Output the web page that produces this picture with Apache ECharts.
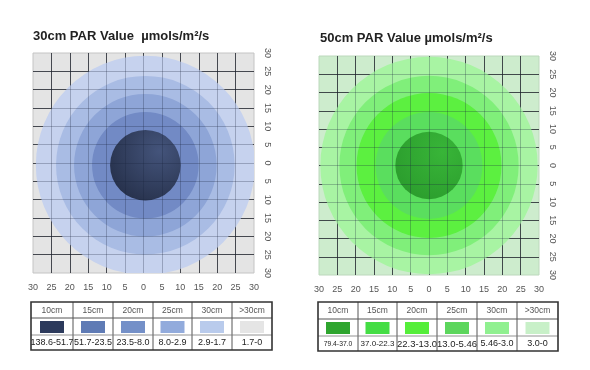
<!DOCTYPE html>
<html>
<head>
<meta charset="utf-8">
<script src="https://cdn.jsdelivr.net/npm/echarts@6/dist/echarts.min.js"></script>
<style>
html,body{margin:0;padding:0;background:#fff;}
#c{width:590px;height:370px;}
</style>
</head>
<body>
<div id="c"></div>
<script>
// ---- data ----
const titles = ['30cm PAR Value  \u00b5mols/m\u00b2/s', '50cm PAR Value \u00b5mols/m\u00b2/s'];
const tickValues = [-30, -25, -20, -15, -10, -5, 0, 5, 10, 15, 20, 25, 30];
const zoneLabels = ['10cm', '15cm', '20cm', '25cm', '30cm', '>30cm'];
// ring radii (axis units), inner to outer
const radii30 = [9.6, 14.5, 19.4, 24.3, 29.8];
const radii50 = [9.2, 14.6, 19.8, 24.5, 29.7];
// ring centres (axis units)
const center30 = [0.5, -0.6];
const center50 = [0, 0];
// PAR ranges per zone
const ranges30 = ['138.6-51.7', '51.7-23.5', '23.5-8.0', '8.0-2.9', '2.9-1.7', '1.7-0'];
const ranges50 = ['79.4-37.0', '37.0-22.3', '22.3-13.0', '13.0-5.46', '5.46-3.0', '3.0-0'];

// ---- styles ----
const ringColors30 = ['#2f3d5f', '#728ac5', '#8ea5d7', '#a9bce4', '#c6d2ee'];
const innerGrad30 = ['#44547b', '#232d46'];
const swatch30 = ['#2c3a5c', '#5f7bb5', '#7490c8', '#92abdc', '#b9cbec', '#e5e5e5'];
const bg30 = '#e4e4e4';
const ringColors50 = ['#2ea530', '#5ade5e', '#5cf040', '#80ef7a', '#a8f4a3'];
const innerGrad50 = ['#38b538', '#2a9a2c'];
const swatch50 = ['#2ea52e', '#44dd44', '#55ee3a', '#5cd65c', '#90f090', '#c8f0c8'];
const bg50 = '#cdeccd';
const valueFont30 = [9, 9, 9, 9, 9, 9];
const valueFont50 = [6.8, 8, 9.5, 9.5, 9, 9];

function ringData(radii, center) {
  const d = [];
  for (let i = radii.length - 1; i >= 0; i--) d.push([center[0], center[1], radii[i], i]);
  return d;
}

function makeRender(colors, grad) {
  return function (params, api) {
    const c = api.coord([api.value(0), api.value(1)]);
    const s = api.size([api.value(2), api.value(2)]);
    const idx = api.value(3);
    let fill = colors[idx];
    if (idx === 0) {
      fill = new echarts.graphic.RadialGradient(0.7, 0.3, 0.9, [
        {offset: 0, color: grad[0]},
        {offset: 1, color: grad[1]}
      ]);
    }
    return {
      type: 'circle',
      shape: {cx: c[0], cy: c[1], r: (s[0] + s[1]) / 2},
      style: {fill: fill}
    };
  };
}

const font = 'Liberation Sans, Arial, sans-serif';

function axisPair(gi) {
  const common = {
    type: 'value', min: -30, max: 30, interval: 5, gridIndex: gi, z: 0,
    axisLine: {show: false},
    axisTick: {show: false},
    splitLine: {show: true, showMinLine: false, showMaxLine: false,
      lineStyle: {color: 'rgba(30,30,30,0.72)', width: 1}},
    axisLabel: {color: '#555', fontSize: 9, fontFamily: font,
      formatter: v => String(Math.abs(v))}
  };
  const x = Object.assign({}, common, {position: 'bottom',
    axisLabel: Object.assign({}, common.axisLabel, {margin: 10})});
  const y = Object.assign({}, common, {position: 'right',
    axisLabel: Object.assign({}, common.axisLabel, {margin: 9, rotate: -90})});
  // overlay axes: faint grid lines drawn over the rings
  const overlay = {
    type: 'value', min: -30, max: 30, interval: 5, gridIndex: gi, z: 6,
    axisLine: {show: false}, axisTick: {show: false}, axisLabel: {show: false},
    splitLine: {show: true, showMinLine: false, showMaxLine: false,
      lineStyle: {color: 'rgba(25,35,60,0.28)', width: 1}}
  };
  const ox = Object.assign({}, overlay, {position: 'top'});
  const oy = Object.assign({}, overlay, {position: 'left'});
  return [x, y, ox, oy];
}

const ax0 = axisPair(0), ax1 = axisPair(1);

// ---- legend tables (graphic) ----
function table(colEdges, top, bottom, row1, row2, swatches, labels, values, vfonts) {
  const els = [];
  for (let i = 0; i < labels.length; i++) {
    const a = colEdges[i], b = colEdges[i + 1];
    const cx = (a + b) / 2;
    els.push({type: 'text', z: 10, style: {text: labels[i], x: cx, y: (top + row1) / 2 + 0.5,
      align: 'center', verticalAlign: 'middle', fill: '#555', font: '8.5px ' + font}});
    els.push({type: 'rect', z: 10, shape: {x: cx - 12, y: row1 + 3, width: 24, height: 12},
      style: {fill: swatches[i]}});
    els.push({type: 'text', z: 10, style: {text: values[i], x: cx, y: (row2 + bottom) / 2 + 0.5,
      align: 'center', verticalAlign: 'middle', fill: '#222', font: vfonts[i] + 'px ' + font}});
  }
  for (let i = 1; i < colEdges.length - 1; i++) {
    els.push({type: 'line', z: 11, shape: {x1: colEdges[i], y1: top, x2: colEdges[i], y2: bottom},
      style: {stroke: '#555', lineWidth: 1}});
  }
  const L = colEdges[0], R = colEdges[colEdges.length - 1];
  els.push({type: 'line', z: 11, shape: {x1: L, y1: row1, x2: R, y2: row1},
    style: {stroke: '#555', lineWidth: 1}});
  els.push({type: 'line', z: 11, shape: {x1: L, y1: row2, x2: R, y2: row2},
    style: {stroke: '#777', lineWidth: 0.8}});
  els.push({type: 'rect', z: 12, shape: {x: L, y: top, width: R - L, height: bottom - top},
    style: {fill: 'none', stroke: '#333', lineWidth: 1.6}});
  return els;
}

const graphics = [].concat(
  table([31, 73, 113, 153, 192, 232, 272], 302, 350, 318, 335, swatch30, zoneLabels, ranges30, valueFont30),
  table([318, 358, 397, 437, 477, 517, 558], 302, 351, 319, 336, swatch50, zoneLabels, ranges50, valueFont50)
);

const chart = echarts.init(document.getElementById('c'), null, {renderer: 'canvas'});
chart.setOption({
  animation: false,
  backgroundColor: '#fff',
  title: [
    {text: titles[0], left: 33, top: 30, padding: 0,
      textStyle: {fontSize: 13, fontWeight: 'bold', color: '#222', fontFamily: font}},
    {text: titles[1], left: 320, top: 32, padding: 0,
      textStyle: {fontSize: 13, fontWeight: 'bold', color: '#222', fontFamily: font}}
  ],
  grid: [
    {left: 33, top: 53, width: 221, height: 220, show: true, backgroundColor: bg30, borderColor: '#c4c4c4', borderWidth: 1, z: 0},
    {left: 319, top: 56, width: 220, height: 219, show: true, backgroundColor: bg50, borderColor: '#bcd8bc', borderWidth: 1, z: 0}
  ],
  xAxis: [ax0[0], ax1[0], ax0[2], ax1[2]],
  yAxis: [ax0[1], ax1[1], ax0[3], ax1[3]],
  series: [
    {type: 'custom', xAxisIndex: 0, yAxisIndex: 0, z: 2, clip: true,
      renderItem: makeRender(ringColors30, innerGrad30), data: ringData(radii30, center30)},
    {type: 'custom', xAxisIndex: 1, yAxisIndex: 1, z: 2, clip: true,
      renderItem: makeRender(ringColors50, innerGrad50), data: ringData(radii50, center50)}
  ],
  graphic: graphics
});
</script>
</body>
</html>
